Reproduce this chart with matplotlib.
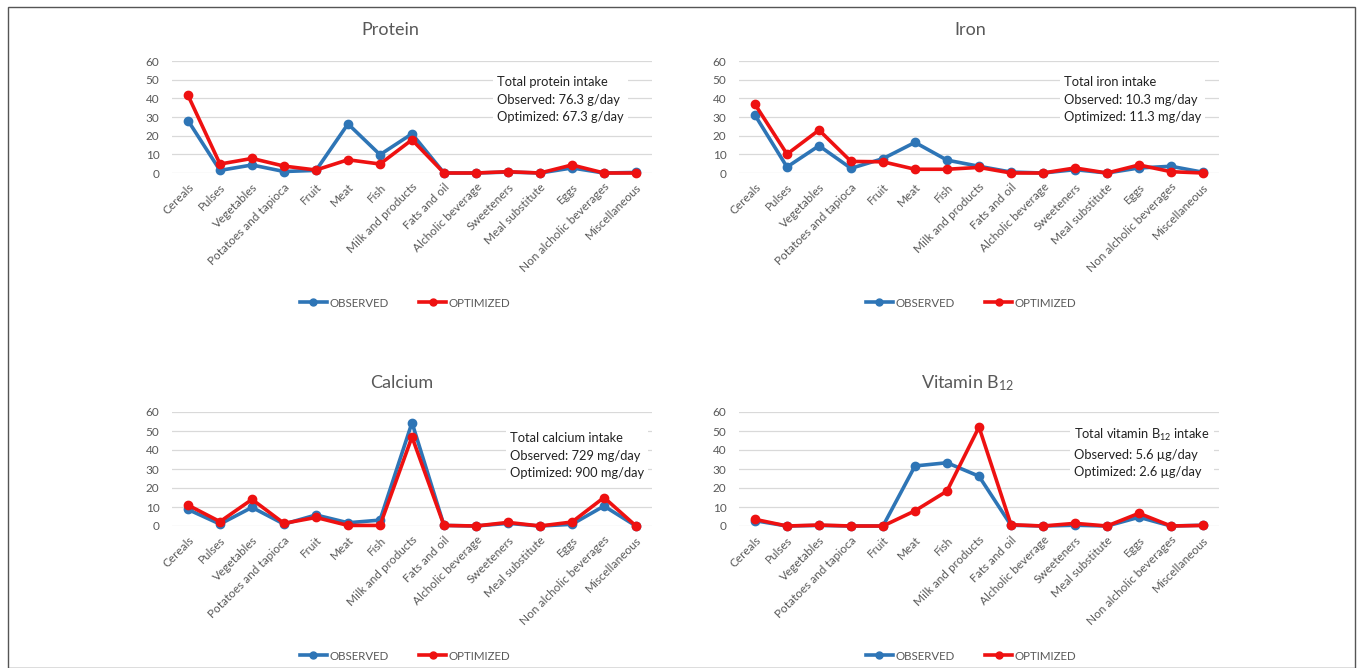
import matplotlib
matplotlib.use("Agg")
import matplotlib.pyplot as plt
from matplotlib.lines import Line2D
from matplotlib.patches import Rectangle

plt.rcParams['font.family'] = ['Lato', 'DejaVu Sans']
plt.rcParams['mathtext.fontset'] = 'custom'
plt.rcParams['mathtext.rm'] = 'Lato'
plt.rcParams['mathtext.it'] = 'Lato:italic'

categories = ["Cereals", "Pulses", "Vegetables", "Potatoes and tapioca", "Fruit", "Meat",
              "Fish", "Milk and products", "Fats and oil", "Alcholic beverage", "Sweeteners",
              "Meal substitute", "Eggs", "Non alcholic beverages", "Miscellaneous"]

protein_observed = [28.1, 1.4, 4.3, 0.8, 1.4, 26.3, 9.8, 21.0, 0, 0, 0.5, 0, 2.7, 0, 0.3]
protein_optimized = [41.6, 4.8, 7.8, 3.7, 1.6, 7.1, 4.8, 17.8, 0, 0, 0.7, 0, 4.3, 0, 0]

iron_observed = [31.0, 3.2, 14.6, 2.5, 7.7, 16.4, 6.9, 3.6, 0.5, 0, 1.8, 0, 2.7, 3.6, 0.4]
iron_optimized = [36.8, 10.1, 23.0, 6.2, 6.0, 2.0, 2.0, 3.0, 0, 0, 2.7, 0, 4.3, 0.7, 0]

calcium_observed = [8.7, 1.0, 9.8, 1.0, 5.8, 1.7, 3.1, 54.4, 0.3, 0, 1.4, 0, 0.9, 10.5, 0]
calcium_optimized = [11.0, 2.3, 14.0, 1.4, 4.5, 0.3, 0.3, 46.9, 0.3, 0, 1.9, 0, 2.1, 15.0, 0]

b12_observed = [2.8, 0, 0.3, 0, 0, 31.6, 33.3, 26.2, 0.4, 0, 0.4, 0, 4.6, 0, 0.4]
b12_optimized = [3.5, 0, 0.5, 0, 0, 8.0, 18.4, 52.1, 0.7, 0, 1.4, 0, 6.7, 0, 0.3]

titles = ["Protein", "Iron", "Calcium", "Vitamin B$_{12}$"]
notes = [
    "Total protein intake\nObserved: 76.3 g/day\nOptimized: 67.3 g/day",
    "Total iron intake\nObserved: 10.3 mg/day\nOptimized: 11.3 mg/day",
    "Total calcium intake\nObserved: 729 mg/day\nOptimized: 900 mg/day",
    "Total vitamin B$_{12}$ intake\nObserved: 5.6 \u00b5g/day\nOptimized: 2.6 \u00b5g/day",
]
series = [(protein_observed, protein_optimized), (iron_observed, iron_optimized),
          (calcium_observed, calcium_optimized), (b12_observed, b12_optimized)]
yticks = [0, 10, 20, 30, 40, 50, 60]

W, H = 1363, 668
fig = plt.figure(figsize=(W / 100, H / 100), dpi=100)
fig.patch.set_facecolor('white')

BLUE = '#2E75B6'
RED = '#EE1111'
GRAY = '#595959'

# outer frame
fig.add_artist(Rectangle((8 / W, 0), (1355 - 8) / W, 1 - 7 / H, transform=fig.transFigure,
                         fill=False, edgecolor='#555555', linewidth=1.0))

# (left px, right px, y0 px, y60 px, title x px, title y px, note x px, note y px, legend x px, legend y px)
layouts = [
    (172, 652, 173, 61, 390, 30, 497, 76, 405, 303),
    (739, 1219, 173, 61, 970, 30, 1064, 76, 971, 303),
    (172, 652, 526, 412, 402, 383, 510, 432, 405, 656),
    (739, 1219, 526, 412, 968, 383, 1074, 427, 971, 656),
]

xs = list(range(len(categories)))
for i, (lx, rx, y0, y60, tx, ty, nx, ny, lgx, lgy) in enumerate(layouts):
    ax = fig.add_axes([lx / W, 1 - y0 / H, (rx - lx) / W, (y0 - y60) / H])
    obs, opt = series[i]
    ax.plot(xs, obs, color=BLUE, lw=2.6, marker='o', ms=6, clip_on=False, zorder=3)
    ax.plot(xs, opt, color=RED, lw=2.6, marker='o', ms=6, clip_on=False, zorder=4)
    ax.set_xlim(-0.5, len(categories) - 0.5)
    ax.set_ylim(0, 60)
    ax.set_yticks(yticks)
    ax.set_yticklabels([str(v) for v in yticks])
    ax.set_xticks(xs)
    ax.set_xticklabels(categories, rotation=45, ha='right', rotation_mode='anchor')
    ax.tick_params(axis='both', length=0, labelsize=8.5, labelcolor=GRAY)
    ax.tick_params(axis='y', pad=9)
    ax.tick_params(axis='x', pad=6)
    ax.grid(axis='y', color='#d9d9d9', lw=0.9)
    ax.set_axisbelow(True)
    for s in ax.spines.values():
        s.set_visible(False)
    fig.text(tx / W, 1 - ty / H, titles[i], ha='center', va='center',
             fontsize=13, color=GRAY)
    fig.text(nx / W, 1 - ny / H, notes[i], ha='left', va='top', fontsize=9.3,
             color='#222222', linespacing=1.55,
             bbox=dict(facecolor='white', edgecolor='none', pad=3), zorder=5)
    handles = [Line2D([], [], color=BLUE, lw=2.6, marker='o', ms=5),
               Line2D([], [], color=RED, lw=2.6, marker='o', ms=5)]
    fig.legend(handles, ["OBSERVED", "OPTIMIZED"], loc='center',
               bbox_to_anchor=(lgx / W, 1 - lgy / H), ncol=2, frameon=False,
               fontsize=8.3, labelcolor=GRAY, handlelength=2.4, handletextpad=0.2,
               columnspacing=2.6)

fig.savefig("out.png", dpi=100, facecolor='white')
